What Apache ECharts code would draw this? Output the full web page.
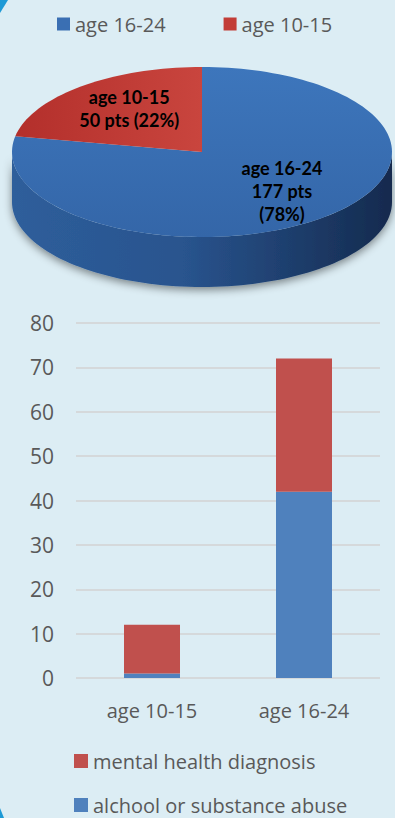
<!DOCTYPE html>
<html>
<head>
<meta charset="utf-8">
<script src="https://cdn.jsdelivr.net/npm/echarts@6/dist/echarts.min.js"></script>
<style>
html,body{margin:0;padding:0;background:#dcedf4;}
#main{width:395px;height:818px;}
</style>
</head>
<body>
<div id="main"></div>
<script>
// ---- data ----
const pieNames = ['age 16-24', 'age 10-15'];
const pieValues = [177, 50];
const pieLabelLines = [
  function (n, v, p) { return n + '\n' + v + ' pts\n(' + p + '%)'; },
  function (n, v, p) { return n + '\n' + v + ' pts (' + p + '%)'; }
];
const categories = ['age 10-15', 'age 16-24'];
const alcoholValues = [1, 42];
const mentalValues = [11, 30];
const seriesNames = ['alchool or substance abuse', 'mental health diagnosis'];

// ---- styles ----
const FONT = 'Open Sans';
const GRAY = '#595959';
const pieColors = ['#3a6fb3', '#c23d37'];
const pieTopGrad = [
  ['#3d76bc', '#3466a8'],
  ['#b32f2b', '#c9453e']
];
const PIE = { cx: 202, cy: 152, rx: 190, ry: 85, depth: 50 };
const labelRadius = [0.66, 0.6];

const total = pieValues.reduce((a, b) => a + b, 0);
function pt(a, dy) {
  return [PIE.cx + PIE.rx * Math.sin(a), PIE.cy - PIE.ry * Math.cos(a) + (dy || 0)];
}
function arc(a0, a1, dy) {
  const pts = [];
  const n = Math.max(2, Math.ceil((a1 - a0) / (Math.PI / 90)));
  for (let k = 0; k <= n; k++) pts.push(pt(a0 + (a1 - a0) * k / n, dy));
  return pts;
}
function makeRender(idx) {
  return function (params, api) {
    let before = 0;
    for (let j = 0; j < idx; j++) before += pieValues[j];
    const start = before / total * Math.PI * 2;
    const end = (before + pieValues[idx]) / total * Math.PI * 2;
    const children = [];
    const s0 = Math.max(start, Math.PI / 2), s1 = Math.min(end, Math.PI * 1.5);
    if (s0 < s1) {
      const topArc = arc(s0, s1, 0);
      const botArc = arc(s0, s1, PIE.depth).reverse();
      children.push({
        type: 'polygon',
        shape: { points: topArc.concat(botArc) },
        style: {
          fill: { type: 'linear', x: 0, y: 0, x2: 1, y2: 0, colorStops: [
            { offset: 0, color: '#2e5e9b' }, { offset: 0.45, color: '#29548e' }, { offset: 1, color: '#142a4e' }] },
          shadowColor: 'rgba(0,0,0,0.45)', shadowBlur: 8, shadowOffsetY: 3
        }
      });
    }
    const top = [[PIE.cx, PIE.cy]].concat(arc(start, end, 0));
    children.push({
      type: 'polygon',
      shape: { points: top },
      style: {
        fill: { type: 'linear', x: 0, y: 0, x2: idx === 1 ? 1 : 0, y2: idx === 1 ? 0 : 1, colorStops: [
          { offset: 0, color: pieTopGrad[idx][0] }, { offset: 1, color: pieTopGrad[idx][1] }] }
      }
    });
    const mid = (start + end) / 2;
    const lp = [PIE.cx + PIE.rx * labelRadius[idx] * Math.sin(mid), PIE.cy - PIE.ry * labelRadius[idx] * Math.cos(mid)];
    const pct = Math.round(pieValues[idx] / total * 100);
    children.push({
      type: 'text',
      style: {
        text: pieLabelLines[idx](pieNames[idx], pieValues[idx], pct),
        x: lp[0], y: lp[1] - 4, align: 'center', verticalAlign: 'middle',
        fontFamily: 'Lato', fontWeight: 'bold', fontSize: 18, lineHeight: 23, fill: '#000'
      }
    });
    return { type: 'group', children: children };
  };
}

const chart = echarts.init(document.getElementById('main'), null, { renderer: 'svg' });
chart.setOption({
  backgroundColor: '#dcedf4',
  animation: false,
  graphic: [
    { type: 'polygon', shape: { points: [[0, 0], [8, 0], [0, 13]] }, style: { fill: '#1e9ad6' } },
    { type: 'polygon', shape: { points: [[0, 808], [4, 818], [0, 818]] }, style: { fill: '#1e9ad6' } }
  ],
  legend: [
    {
      data: pieNames, left: 57, top: 14, padding: 0, icon: 'rect', itemWidth: 13, itemHeight: 13, itemGap: 58,
      textStyle: { fontFamily: FONT, fontSize: 20, color: GRAY }
    },
    {
      data: [seriesNames[1], seriesNames[0]], orient: 'vertical', left: 74, top: 751, height: 90, padding: 0, icon: 'rect',
      itemWidth: 14, itemHeight: 14, itemGap: 24,
      textStyle: { fontFamily: FONT, fontSize: 20, color: GRAY, lineHeight: 20 }
    }
  ],
  grid: { left: 76, right: 15, top: 323, bottom: 140 },
  xAxis: {
    type: 'category', data: categories,
    axisLine: { show: false }, axisTick: { show: false },
    axisLabel: { fontFamily: FONT, fontSize: 20, color: GRAY, margin: 22 }
  },
  yAxis: {
    type: 'value', min: 0, max: 80, interval: 10,
    axisLine: { show: false }, axisTick: { show: false },
    axisLabel: { fontFamily: FONT, fontSize: 21, color: GRAY, margin: 22 },
    splitLine: { lineStyle: { color: '#d5d9db', width: 2 } }
  },
  series: [
    { type: 'custom', name: pieNames[0], coordinateSystem: 'none', itemStyle: { color: pieColors[0] }, data: [pieValues[0]], renderItem: makeRender(0), silent: true },
    { type: 'custom', name: pieNames[1], coordinateSystem: 'none', itemStyle: { color: pieColors[1] }, data: [pieValues[1]], renderItem: makeRender(1), silent: true },
    { type: 'bar', name: seriesNames[0], stack: 'a', data: alcoholValues, barWidth: 56, itemStyle: { color: '#4f81bd' } },
    { type: 'bar', name: seriesNames[1], stack: 'a', data: mentalValues, barWidth: 56, itemStyle: { color: '#c0504d' } }
  ]
});
</script>
</body>
</html>
